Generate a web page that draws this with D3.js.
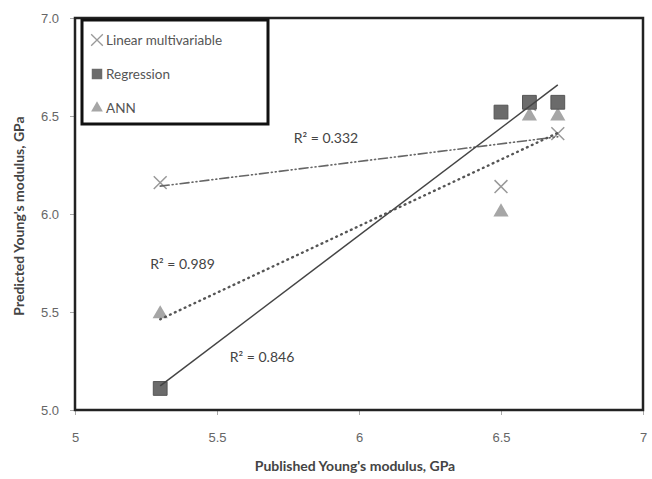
<!DOCTYPE html>
<html>
<head>
<meta charset="utf-8">
<script src="https://cdn.jsdelivr.net/npm/d3@7"></script>
<style>
    body {margin: 0; background: #fff;}
    svg {display: block; font-family: Lato, "Open Sans", sans-serif;}
    .tick text {fill: #666; font-size: 13px;}
    .tick line {stroke: #aaa;}
    .axis .domain {display: none;}
</style>
</head>
<body>
<svg id="chart" width="652" height="479"></svg>
<script>
// published modulus (x) and predicted values per method
var linearX = [5.3, 6.5, 6.6, 6.7]
    , linearY = [6.16, 6.14, 6.56, 6.41];
var regX = [5.3, 6.5, 6.6, 6.7]
    , regY = [5.11, 6.52, 6.57, 6.57];
var annX = [5.3, 6.5, 6.6, 6.7]
    , annY = [5.49, 6.01, 6.5, 6.5];

var xTickValues = [5, 5.5, 6, 6.5, 7]
    , yTickValues = [5.0, 5.5, 6.0, 6.5, 7.0];

var seriesNames = ["Linear multivariable", "Regression", "ANN"];

// r-squared labels as they stand in the chart: [text, x, y]
var r2Labels = [
    ["R\u00b2 = 0.332", 5.77, 6.36],
    ["R\u00b2 = 0.989", 5.265, 5.72],
    ["R\u00b2 = 0.846", 5.545, 5.245]
];

var margin = {top: 18, right: 9, bottom: 69, left: 75}
    , width = 652 - margin.left - margin.right
    , height = 479 - margin.top - margin.bottom;

var svg = d3.select("#chart");
var g = svg.append("g").attr("transform", "translate(" + margin.left + "," + margin.top + ")");

var x = d3.scaleLinear().domain([5, 7]).range([0, width]);
var y = d3.scaleLinear().domain([5, 7]).range([height, 0]);

function zip(xs, ys) {
    return xs.map(function(v, i) {return {x: v, y: ys[i]}});
}

// least squares fit, drawn over the data range like an excel trendline
function trend(pts) {
    var mx = d3.mean(pts, function(d) {return d.x})
        , my = d3.mean(pts, function(d) {return d.y})
        , sxy = d3.sum(pts, function(d) {return (d.x - mx) * (d.y - my)})
        , sxx = d3.sum(pts, function(d) {return (d.x - mx) * (d.x - mx)})
        , b = sxy / sxx
        , ext = d3.extent(pts, function(d) {return d.x});
    return ext.map(function(v) {return {x: v, y: my + b * (v - mx)}});
}

var series = [
    {name: seriesNames[0], pts: zip(linearX, linearY), dash: "9,3,1,3,1,3", stroke: "#666", sw: 1.6},
    {name: seriesNames[1], pts: zip(regX, regY), dash: null, stroke: "#444", sw: 1.5},
    {name: seriesNames[2], pts: zip(annX, annY), dash: "0.8,4.6", stroke: "#555", sw: 2.4}
];

var xAxis = d3.axisBottom(x)
    .tickValues(xTickValues)
    .tickSizeInner(5)
    .tickSizeOuter(0)
    .tickPadding(18)
    .tickFormat(d3.format(""));

var yAxis = d3.axisLeft(y)
    .tickValues(yTickValues)
    .tickSizeInner(5)
    .tickSizeOuter(0)
    .tickPadding(11)
    .tickFormat(d3.format(".1f"));

g.append("g")
    .attr("class", "axis axis--x")
    .attr("transform", "translate(0," + height + ")")
    .call(xAxis);

g.append("g")
    .attr("class", "axis axis--y")
    .call(yAxis);

var line = d3.line()
    .x(function(d) {return x(d.x)})
    .y(function(d) {return y(d.y)});

// markers
var cross = d3.symbol().type(d3.symbolX).size(110)
    , square = d3.symbol().type(d3.symbolSquare).size(190)
    , tri = d3.symbol().type(d3.symbolTriangle).size(100);

function place(d) {return "translate(" + x(d.x) + "," + y(d.y) + ")"}

g.selectAll("path.m-lin")
    .data(series[0].pts)
    .enter().append("path")
    .attr("class", "m-lin")
    .attr("transform", place)
    .attr("d", cross)
    .attr("fill", "none")
    .attr("stroke", "#999")
    .attr("stroke-width", 1.5);

g.selectAll("path.m-ann")
    .data(series[2].pts)
    .enter().append("path")
    .attr("class", "m-ann")
    .attr("transform", place)
    .attr("d", tri)
    .attr("fill", "#a6a6a6");

g.selectAll("path.m-reg")
    .data(series[1].pts)
    .enter().append("path")
    .attr("class", "m-reg")
    .attr("transform", place)
    .attr("d", square)
    .attr("fill", "#6b6b6b")
    .attr("stroke", "#555")
    .attr("stroke-width", 1);

// trendlines
g.selectAll("path.trend")
    .data(series)
    .enter().append("path")
    .attr("class", "trend")
    .attr("d", function(d) {return line(trend(d.pts))})
    .attr("fill", "none")
    .attr("stroke", function(d) {return d.stroke})
    .attr("stroke-width", function(d) {return d.sw})
    .attr("stroke-dasharray", function(d) {return d.dash})
    .attr("stroke-linecap", function(d) {return d.dash ? "round" : "butt"});

g.selectAll("text.r2")
    .data(r2Labels)
    .enter().append("text")
    .attr("class", "r2")
    .attr("x", function(d) {return x(d[1])})
    .attr("y", function(d) {return y(d[2])})
    .attr("fill", "#444")
    .style("font-size", "14px")
    .text(function(d) {return d[0]});

// plot frame
g.append("rect")
    .attr("width", width)
    .attr("height", height)
    .attr("fill", "none")
    .attr("stroke", "#222")
    .attr("stroke-width", 2.5);

// legend
var lg = g.append("g").attr("transform", "translate(7,2)");
lg.append("rect")
    .attr("width", 186)
    .attr("height", 104)
    .attr("fill", "#fff")
    .attr("stroke", "#111")
    .attr("stroke-width", 3);

var legendSym = [
        d3.symbol().type(d3.symbolX).size(90),
        d3.symbol().type(d3.symbolSquare).size(110),
        d3.symbol().type(d3.symbolTriangle).size(60)
    ]
    , legendFill = ["none", "#6b6b6b", "#a6a6a6"]
    , legendStroke = ["#999", "none", "none"];

var items = lg.selectAll("g.item")
    .data(seriesNames)
    .enter().append("g")
    .attr("class", "item")
    .attr("transform", function(d, i) {return "translate(15," + (20 + i * 34) + ")"});

items.append("path")
    .attr("d", function(d, i) {return legendSym[i]()})
    .attr("fill", function(d, i) {return legendFill[i]})
    .attr("stroke", function(d, i) {return legendStroke[i]})
    .attr("stroke-width", 1.3);

items.append("text")
    .attr("x", 9)
    .attr("dy", "0.35em")
    .attr("fill", "#555")
    .style("font-size", "13.5px")
    .text(function(d) {return d});

// axis titles
svg.append("text")
    .attr("x", margin.left + width / 2 - 4)
    .attr("y", 471)
    .attr("text-anchor", "middle")
    .attr("fill", "#444")
    .style("font-size", "14px")
    .style("font-weight", "bold")
    .text("Published Young's modulus, GPa");

svg.append("text")
    .attr("transform", "translate(24,216) rotate(-90)")
    .attr("text-anchor", "middle")
    .attr("fill", "#444")
    .style("font-size", "14px")
    .style("font-weight", "bold")
    .text("Predicted Young's modulus, GPa");
</script>
</body>
</html>
